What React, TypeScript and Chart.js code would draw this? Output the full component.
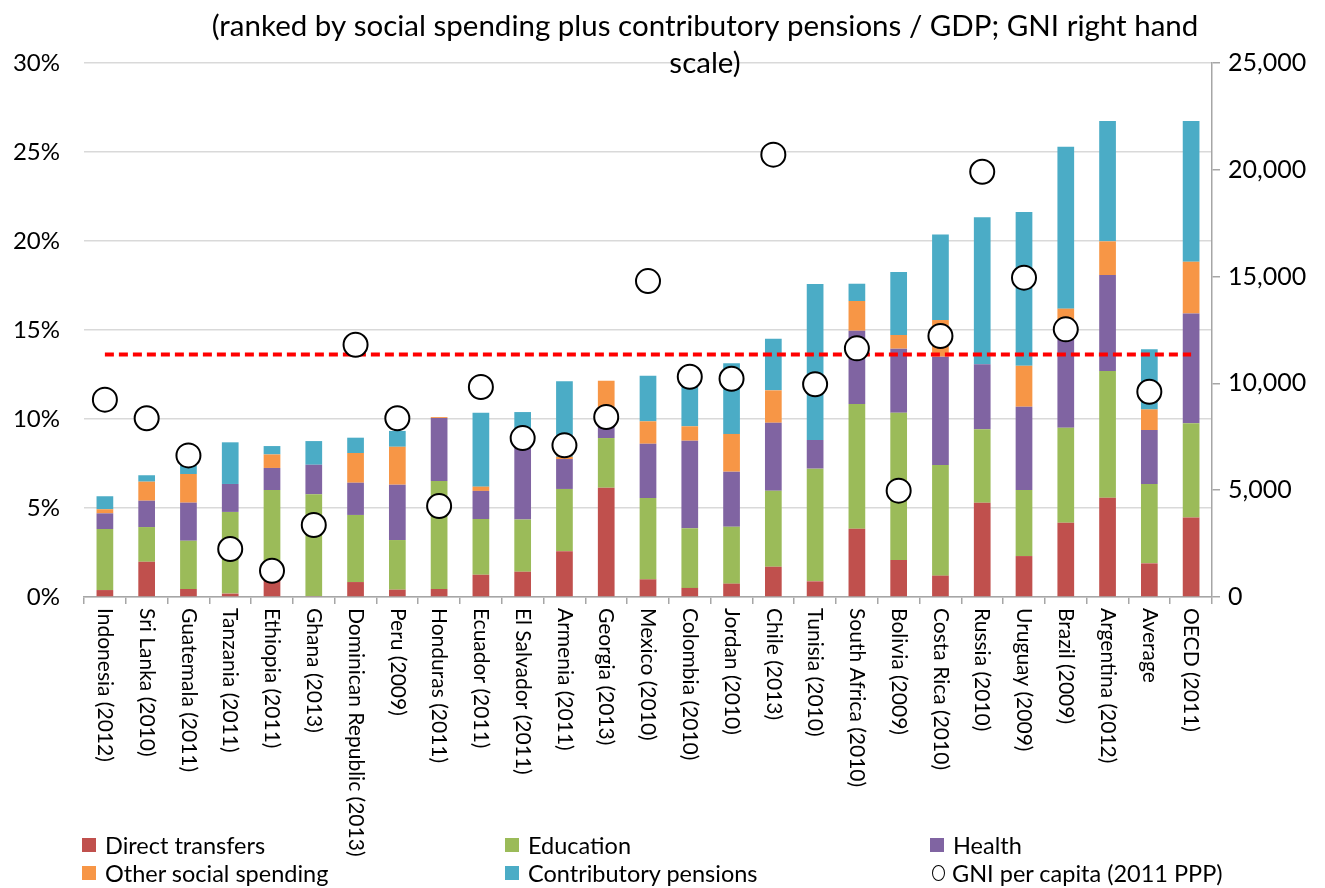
import React, { useEffect, useRef } from "react";
import { Chart, registerables } from "chart.js";

Chart.register(...registerables);

const TITLE_LINES = [
  "(ranked by social spending plus contributory pensions / GDP; GNI right hand",
  "scale)",
];

const CATEGORIES = [
  "Indonesia (2012)", "Sri Lanka (2010)", "Guatemala (2011)", "Tanzania (2011)",
  "Ethiopia (2011)", "Ghana (2013)", "Dominican Republic (2013)", "Peru (2009)",
  "Honduras (2011)", "Ecuador (2011)", "El Salvador (2011)", "Armenia (2011)",
  "Georgia (2013)", "Mexico (2010)", "Colombia (2010)", "Jordan (2010)",
  "Chile (2013)", "Tunisia (2010)", "South Africa (2010)", "Bolivia (2009)",
  "Costa Rica (2010)", "Russia (2010)", "Uruguay (2009)", "Brazil (2009)",
  "Argentina (2012)", "Average", "OECD (2011)",
];

// % of GDP
const DIRECT_TRANSFERS = [0.39, 1.98, 0.45, 0.19, 1.0, 0.05, 0.84, 0.41, 0.45, 1.25, 1.42, 2.57, 6.14, 0.99, 0.51, 0.75, 1.70, 0.88, 3.84, 2.08, 1.20, 5.30, 2.30, 4.17, 5.58, 1.89, 4.46];
const EDUCATION = [3.43, 1.95, 2.71, 4.59, 5.01, 5.72, 3.77, 2.79, 6.07, 3.13, 2.94, 3.50, 2.79, 4.57, 3.35, 3.20, 4.27, 6.33, 7.00, 8.27, 6.22, 4.12, 3.71, 5.34, 7.12, 4.46, 5.30];
const HEALTH = [0.88, 1.48, 2.14, 1.57, 1.24, 1.66, 1.81, 3.11, 3.54, 1.58, 4.84, 1.68, 1.27, 3.05, 4.92, 3.09, 3.82, 1.61, 4.12, 3.60, 6.08, 3.65, 4.68, 5.59, 5.39, 3.03, 6.16];
const OTHER_SOCIAL = [0.23, 1.07, 1.61, 0, 0.76, 0, 1.67, 2.13, 0.05, 0.24, 0, 0.13, 1.95, 1.26, 0.81, 2.12, 1.82, 0, 1.67, 0.77, 2.06, 0, 2.30, 1.10, 1.89, 1.16, 2.92];
const CONTRIB_PENSIONS = [0.73, 0.36, 0.50, 2.34, 0.47, 1.33, 0.86, 0.89, 0, 4.15, 1.19, 4.24, 0, 2.56, 2.41, 3.97, 2.90, 8.76, 0.97, 3.54, 4.81, 8.26, 8.64, 9.10, 6.76, 3.38, 7.90];

// GNI per capita, 2011 PPP (right axis)
const GNI_PER_CAPITA = [9240, 8370, 6630, 2250, 1230, 3370, 11810, 8370, 4260, 9830, 7440, 7100, 8430, 14790, 10310, 10220, 20710, 9960, 11640, 4980, 12220, 19910, 14950, 12530, null, 9610, null];

const REFERENCE_LEVEL = 13.63;

const LEFT_TICKS = [0, 5, 10, 15, 20, 25, 30];
const RIGHT_TICKS = [0, 5000, 10000, 15000, 20000, 25000];

const SERIES_NAMES = [
  "Direct transfers", "Education", "Health",
  "Other social spending", "Contributory pensions", "GNI per capita (2011 PPP)",
];
const COLORS = ["#C0504D", "#9BBB59", "#8064A2", "#F79646", "#4BACC6"];

const FONT = "Lato, 'Open Sans', sans-serif";

const titlePlugin = {
  id: "overlayTitle",
  afterDraw(chart: any) {
    const { ctx } = chart;
    ctx.save();
    ctx.font = `29.5px ${FONT}`;
    ctx.fillStyle = "#000";
    ctx.textAlign = "center";
    ctx.textBaseline = "middle";
    ctx.fillText(TITLE_LINES[0], 705, 26);
    ctx.fillText(TITLE_LINES[1], 705, 63);
    ctx.restore();
  },
};

const xLabelPlugin = {
  id: "verticalXLabels",
  afterDraw(chart: any) {
    const { ctx } = chart;
    const xs = chart.scales.x;
    ctx.save();
    ctx.font = `21px ${FONT}`;
    ctx.fillStyle = "#000";
    ctx.textAlign = "left";
    ctx.textBaseline = "middle";
    CATEGORIES.forEach((label, i) => {
      const x = xs.getPixelForValue(i);
      ctx.save();
      ctx.translate(x, xs.top + 11);
      ctx.rotate(Math.PI / 2);
      ctx.fillText(label, 0, 0);
      ctx.restore();
    });
    ctx.restore();
  },
};

export default function App() {
  const canvasRef = useRef<HTMLCanvasElement | null>(null);

  useEffect(() => {
    if (!canvasRef.current) return;
    const barSets = [DIRECT_TRANSFERS, EDUCATION, HEALTH, OTHER_SOCIAL, CONTRIB_PENSIONS].map((d, i) => ({
      type: "bar" as const,
      label: SERIES_NAMES[i],
      data: d,
      backgroundColor: COLORS[i],
      borderWidth: 0,
      stack: "s",
      yAxisID: "y",
      order: 3,
      barPercentage: 0.4,
      categoryPercentage: 1,
    }));
    const chart = new Chart(canvasRef.current, {
      type: "bar",
      data: {
        labels: CATEGORIES,
        datasets: [
          ...barSets,
          {
            type: "line" as const,
            label: "ref",
            data: CATEGORIES.map(() => REFERENCE_LEVEL),
            borderColor: "#FF0000",
            borderWidth: 4,
            borderDash: [9, 5],
            pointRadius: 0,
            fill: false,
            yAxisID: "y",
            stack: "ref",
            order: 2,
          },
          {
            type: "line" as const,
            label: SERIES_NAMES[5],
            data: GNI_PER_CAPITA,
            showLine: false,
            pointRadius: 12,
            pointBackgroundColor: "#FFFFFF",
            pointBorderColor: "#000000",
            pointBorderWidth: 2,
            yAxisID: "y1",
            order: 1,
          },
        ] as any,
      },
      options: {
        responsive: false,
        animation: false,
        layout: { padding: { top: 63, left: 0, right: 0, bottom: 0 } },
        plugins: {
          legend: { display: false },
          title: { display: false },
          tooltip: { enabled: false },
        },
        scales: {
          x: {
            stacked: true,
            offset: true,
            grid: {
              display: true,
              drawOnChartArea: false,
              drawTicks: true,
              tickLength: 7,
              color: "#A6A6A6",
              lineWidth: 1.5,
              offset: true,
            },
            border: { display: true, color: "#A6A6A6", width: 1.5 },
            ticks: { display: false },
            afterFit: (s: any) => { s.height = 888 - 597; },
          },
          y: {
            stacked: true,
            position: "left",
            min: 0,
            max: 30,
            afterBuildTicks: (s: any) => { s.ticks = LEFT_TICKS.map((v) => ({ value: v })); },
            ticks: {
              callback: (v: any) => `${v}%`,
              color: "#000",
              font: { family: FONT, size: 24 },
              padding: 24,
            },
            grid: { color: "#D9D9D9", lineWidth: 1.5, drawTicks: false },
            border: { display: false },
            afterFit: (s: any) => { s.width = 84; },
          },
          y1: {
            position: "right",
            stacked: false,
            min: 0,
            max: 25000,
            afterBuildTicks: (s: any) => { s.ticks = RIGHT_TICKS.map((v) => ({ value: v })); },
            ticks: {
              callback: (v: any) => Number(v).toLocaleString("en-US"),
              color: "#000",
              font: { family: FONT, size: 25 },
              padding: 8,
            },
            grid: {
              drawOnChartArea: false,
              drawTicks: true,
              tickLength: 8,
              color: "#A6A6A6",
              lineWidth: 1.5,
            },
            border: { display: true, color: "#A6A6A6", width: 1.5 },
            afterFit: (s: any) => { s.width = 1325 - 1212; },
          },
        },
      } as any,
      plugins: [xLabelPlugin, titlePlugin],
    });
    return () => chart.destroy();
  }, []);

  const legendCols = [82, 505, 930];
  const legendRows = [845, 873];

  return (
    <div style={{ position: "fixed", left: 0, top: 0, width: 1325, height: 888, background: "#fff" }}>
      <canvas ref={canvasRef} width={1325} height={888} style={{ display: "block", width: 1325, height: 888 }} />
      {SERIES_NAMES.map((name, i) => {
        const col = i % 3;
        const row = Math.floor(i / 3);
        const isCircle = i === 5;
        return (
          <div
            key={name}
            style={{
              position: "absolute",
              left: legendCols[col],
              top: legendRows[row] - 14,
              height: 28,
              display: "flex",
              alignItems: "center",
              fontFamily: FONT,
              fontSize: 23.5,
              color: "#000",
              whiteSpace: "nowrap",
            }}
          >
            {isCircle ? (
              <span
                style={{
                  display: "inline-block",
                  width: 13,
                  height: 16,
                  borderRadius: "50%",
                  border: "1.5px solid #000",
                  background: "#fff",
                  marginLeft: 2,
                  marginRight: 7,
                  boxSizing: "border-box",
                }}
              />
            ) : (
              <span
                style={{
                  display: "inline-block",
                  width: 14,
                  height: 14,
                  background: COLORS[i],
                  marginRight: 9,
                }}
              />
            )}
            <span>{name}</span>
          </div>
        );
      })}
    </div>
  );
}
